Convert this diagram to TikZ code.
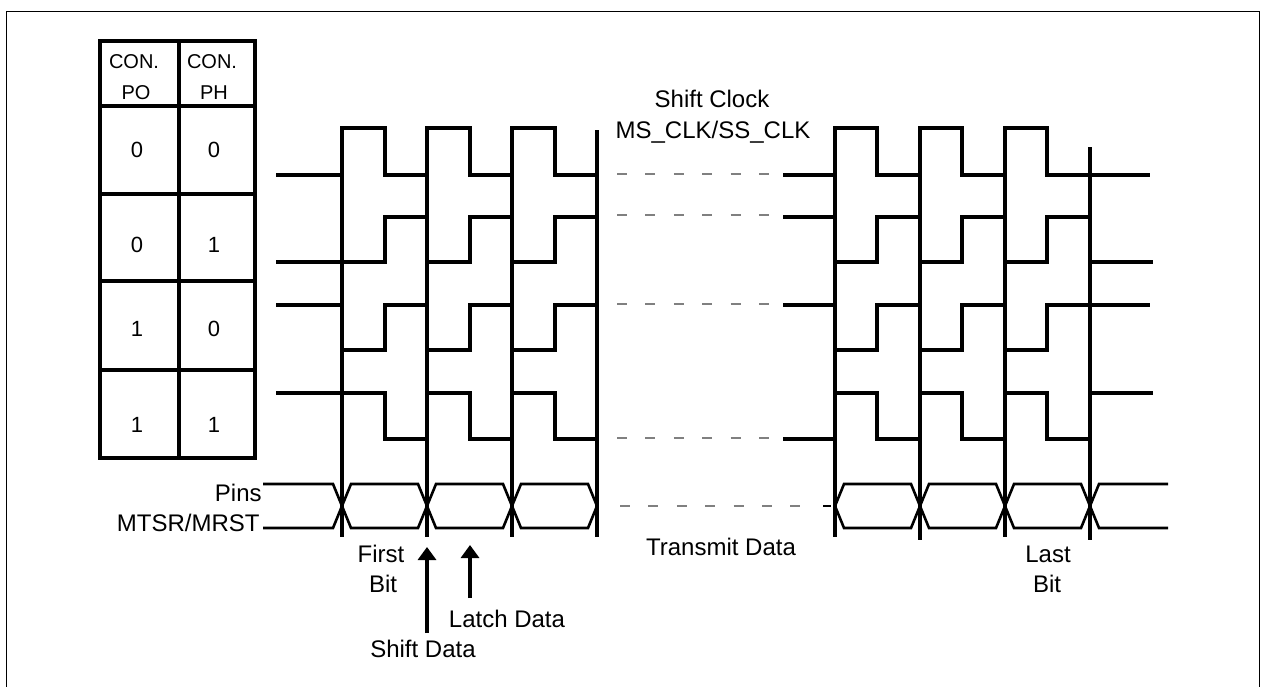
\documentclass[tikz,border=0pt]{standalone}
\usepackage{fontspec}
\setmainfont{Liberation Sans}
\usetikzlibrary{arrows.meta}

\begin{document}
\begin{tikzpicture}[
    x=0.5pt, y=-0.5pt,
    every node/.style={inner sep=0pt},
    lbl/.style={font=\fontsize{12}{14}\selectfont, anchor=base},
    hdr/.style={font=\fontsize{10}{12}\selectfont, anchor=base},
    bitval/.style={font=\fontsize{11}{13}\selectfont, anchor=base},
    tablerule/.style={line width=2pt},
    wave/.style={line width=1.8pt},
    bus/.style={line width=1.3pt},
    idle/.style={gray, line width=0.6pt, dash pattern=on 5pt off 9.2pt},
    line/.style={-{Triangle[width=9pt, length=6.5pt]}, line width=1.6pt}
]
\useasboundingbox (0,0) rectangle (1261,686);
\draw[line width=0.7pt] (6.5,690) |- (1259.5,11.5) -- (1259.5,690);
\draw[tablerule] (100,41) rectangle (255,458);
\draw[tablerule] (179,41) -- (179,458);
\draw[tablerule] (100,106) -- (255,106);
\draw[tablerule] (100,194) -- (255,194);
\draw[tablerule] (100,281) -- (255,281);
\draw[tablerule] (100,370) -- (255,370);
\node[hdr] (conpo) at (134,68) {CON.};
\node[hdr] (po) at (136,99) {PO};
\node[hdr] (conph) at (212,68) {CON.};
\node[hdr] (ph) at (214,99) {PH};
\node[bitval] (poa) at (137,157) {0};
\node[bitval] (pha) at (214,157) {0};
\node[bitval] (pob) at (137,252) {0};
\node[bitval] (phb) at (214,252) {1};
\node[bitval] (poc) at (137,336) {1};
\node[bitval] (phc) at (214,336) {0};
\node[bitval] (pod) at (137,432) {1};
\node[bitval] (phd) at (214,432) {1};
\node[lbl] (shiftclock) at (712,107) {Shift Clock};
\node[lbl] (msclk) at (713,138) {MS\_CLK/SS\_CLK};
\node[lbl, anchor=base east] (pins) at (262,501) {Pins};
\node[lbl, anchor=base east] (mtsr) at (260,531) {MTSR/MRST};
\node[lbl] (first) at (381,562) {First};
\node[lbl] (firstbit) at (383,592) {Bit};
\node[lbl] (latch) at (507,627) {Latch Data};
\node[lbl] (shiftdata) at (423,657) {Shift Data};
\node[lbl] (transmit) at (721,555) {Transmit Data};
\node[lbl] (last) at (1048,562) {Last};
\node[lbl] (lastbit) at (1047,592) {Bit};
\draw[wave] (342,128) -- (342,537);
\draw[wave] (427,128) -- (427,537);
\draw[wave] (512,128) -- (512,537);
\draw[wave] (597,130) -- (597,537);
\draw[wave] (835,128) -- (835,537);
\draw[wave] (920,128) -- (920,540);
\draw[wave] (1005,128) -- (1005,537);
\draw[wave] (1090,147) -- (1090,540);
\draw[wave] (276,175) -- (342,175) -- (342,128) -- (385,128) -- (385,175) -- (427,175) -- (427,128) -- (470,128) -- (470,175) -- (512,175) -- (512,128) -- (555,128) -- (555,175) -- (597,175);
\draw[wave] (783,175) -- (835,175) -- (835,128) -- (877,128) -- (877,175) -- (920,175) -- (920,128) -- (962,128) -- (962,175) -- (1005,175) -- (1005,128) -- (1047,128) -- (1047,175) -- (1150,175);
\draw[wave] (276,262) -- (385,262) -- (385,217) -- (427,217) -- (427,262) -- (470,262) -- (470,217) -- (512,217) -- (512,262) -- (555,262) -- (555,217) -- (597,217);
\draw[wave] (783,217) -- (835,217) -- (835,262) -- (877,262) -- (877,217) -- (920,217) -- (920,262) -- (962,262) -- (962,217) -- (1005,217) -- (1005,262) -- (1047,262) -- (1047,217) -- (1090,217) -- (1090,262) -- (1153,262);
\draw[wave] (276,305) -- (342,305) -- (342,350) -- (385,350) -- (385,305) -- (427,305) -- (427,350) -- (470,350) -- (470,305) -- (512,305) -- (512,350) -- (555,350) -- (555,305) -- (597,305);
\draw[wave] (783,305) -- (835,305) -- (835,350) -- (877,350) -- (877,305) -- (920,305) -- (920,350) -- (962,350) -- (962,305) -- (1005,305) -- (1005,350) -- (1047,350) -- (1047,305) -- (1150,305);
\draw[wave] (276,393) -- (385,393) -- (385,439) -- (427,439) -- (427,393) -- (470,393) -- (470,439) -- (512,439) -- (512,393) -- (555,393) -- (555,439) -- (597,439);
\draw[wave] (783,439) -- (835,439) -- (835,393) -- (877,393) -- (877,439) -- (920,439) -- (920,393) -- (962,393) -- (962,439) -- (1005,439) -- (1005,393) -- (1047,393) -- (1047,439) -- (1090,439) -- (1090,393) -- (1153,393);
\draw[idle] (617,174) -- (770,174);
\draw[idle] (617,215) -- (770,215);
\draw[idle] (617,304) -- (770,304);
\draw[idle] (617,438) -- (770,438);
\draw[idle] (620,506) -- (806,506);
\draw[bus] (263,484) -- (333,484) -- (342,506) -- (351,484) -- (418,484) -- (427,506) -- (436,484) -- (503,484) -- (512,506) -- (521,484) -- (588,484) -- (597,506);
\draw[bus] (263,528) -- (333,528) -- (342,506) -- (351,528) -- (418,528) -- (427,506) -- (436,528) -- (503,528) -- (512,506) -- (521,528) -- (588,528) -- (597,506);
\draw[line width=1.4pt] (823,506) -- (831,506);
\draw[bus] (835,506) -- (844,484) -- (911,484) -- (920,506) -- (929,484) -- (996,484) -- (1005,506) -- (1014,484) -- (1081,484) -- (1090,506) -- (1099,484) -- (1168,484);
\draw[bus] (835,506) -- (844,528) -- (911,528) -- (920,506) -- (929,528) -- (996,528) -- (1005,506) -- (1014,528) -- (1081,528) -- (1090,506) -- (1099,528) -- (1168,528);
\coordinate (shiftfoot) at (427,633);
\coordinate (shifttip) at (427,547);
\coordinate (latchfoot) at (470,598);
\coordinate (latchtip) at (470,545);
\draw[line] (shiftfoot) -- (shifttip);
\draw[line] (latchfoot) -- (latchtip);
\end{tikzpicture}
\end{document}
